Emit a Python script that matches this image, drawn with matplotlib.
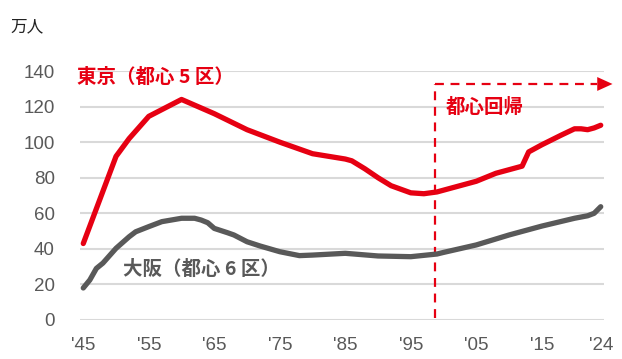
import matplotlib
matplotlib.use("Agg")
import matplotlib.pyplot as plt

plt.rcParams['font.family'] = ['Liberation Sans', 'Noto Sans CJK JP', 'DejaVu Sans']

tokyo_years = [1945, 1950, 1952, 1955, 1960, 1965, 1970, 1975, 1980, 1985, 1986, 1988, 1990, 1992,
               1995, 1997, 1999, 2000, 2002, 2005, 2008, 2010, 2012, 2013, 2015, 2018, 2020, 2021, 2022, 2023, 2024]
tokyo_vals = [43, 92, 102, 114.5, 124, 116, 107, 100, 93.5, 90.5, 89.5, 85, 80, 75.5,
              71.5, 71, 72, 73, 75, 78, 82.5, 84.5, 86.5, 94.5, 98.5, 104, 107.5, 107.5, 107, 108, 109.5]

osaka_years = [1945, 1946, 1947, 1948, 1950, 1952, 1953, 1955, 1957, 1960, 1962, 1963, 1964, 1965,
               1967, 1968, 1970, 1972, 1975, 1978, 1980, 1985, 1990, 1995, 1999, 2000, 2005, 2010,
               2015, 2020, 2022, 2023, 2024]
osaka_vals = [18, 22.5, 29, 32, 40.3, 46.8, 49.6, 52.5, 55.3, 57.2, 57.2, 56.2, 54.7, 51.5,
              49.1, 47.8, 44, 41.6, 38.4, 36.2, 36.5, 37.5, 36, 35.6, 37.1, 38, 42.2, 47.8,
              52.8, 57.2, 58.6, 60, 63.7]

xtick_years = [1945, 1955, 1965, 1975, 1985, 1995, 2005, 2015, 2024]
xtick_labels = ["'45", "'55", "'65", "'75", "'85", "'95", "'05", "'15", "'24"]
ytick_vals = [0, 20, 40, 60, 80, 100, 120, 140]

return_year = 1998.7
arrow_level = 132.7

RED = '#E60012'
GRAY = '#595959'
GRID = '#D9D9D9'

fig = plt.figure(figsize=(6.22, 3.59), dpi=100)
ax = fig.add_axes([80/622, 1-320/359, (604-80)/622, (320-71)/359])

for y in ytick_vals:
    ax.axhline(y, color=GRID, lw=1.5, zorder=0)

ax.plot(osaka_years, osaka_vals, color=GRAY, lw=3.8, solid_capstyle='round', solid_joinstyle='round', zorder=3)
ax.plot(tokyo_years, tokyo_vals, color=RED, lw=3.8, solid_capstyle='round', solid_joinstyle='round', zorder=4)

ax.set_xlim(1944.5, 2024.5)
ax.set_ylim(0, 140)
ax.set_xticks(xtick_years)
ax.set_xticklabels(xtick_labels)
ax.set_yticks(ytick_vals)
ax.tick_params(axis='both', length=0, labelsize=13.5, labelcolor=GRAY)
ax.tick_params(axis='x', pad=12)
ax.tick_params(axis='y', pad=18)
for s in ax.spines.values():
    s.set_visible(False)

# return-to-center dashed bracket and arrow
ax.plot([return_year, return_year], [1, arrow_level], color=RED, lw=1.6, ls=(0, (4, 3)), zorder=2, clip_on=False)
ax.plot([return_year, 2023.5], [arrow_level, arrow_level], color=RED, lw=1.6, ls=(0, (4, 3)), zorder=2, clip_on=False)
ax.annotate('', xy=(2025.8, arrow_level), xytext=(2022.5, arrow_level),
            arrowprops=dict(arrowstyle='-|>,head_length=1.1,head_width=0.5', color=RED, lw=0, shrinkA=0, shrinkB=0),
            annotation_clip=False)

jp = ['Noto Sans CJK JP', 'Liberation Sans']
ax.text(1944.0, 136.5, '東京（都心 5 区）', color=RED, fontsize=14, fontweight='bold', family=jp, va='center', ha='left')
ax.text(1951.0, 28.5, '大阪（都心 6 区）', color=GRAY, fontsize=14, fontweight='bold', family=jp, va='center', ha='left')
ax.text(2000.3, 119.5, '都心回帰', color=RED, fontsize=14, fontweight='bold', family=jp, va='center', ha='left')
fig.text(10/622, 1-27/359, '万人', color='#222222', fontsize=12, family=jp, va='center', ha='left')

fig.savefig('out.png', dpi=100)
